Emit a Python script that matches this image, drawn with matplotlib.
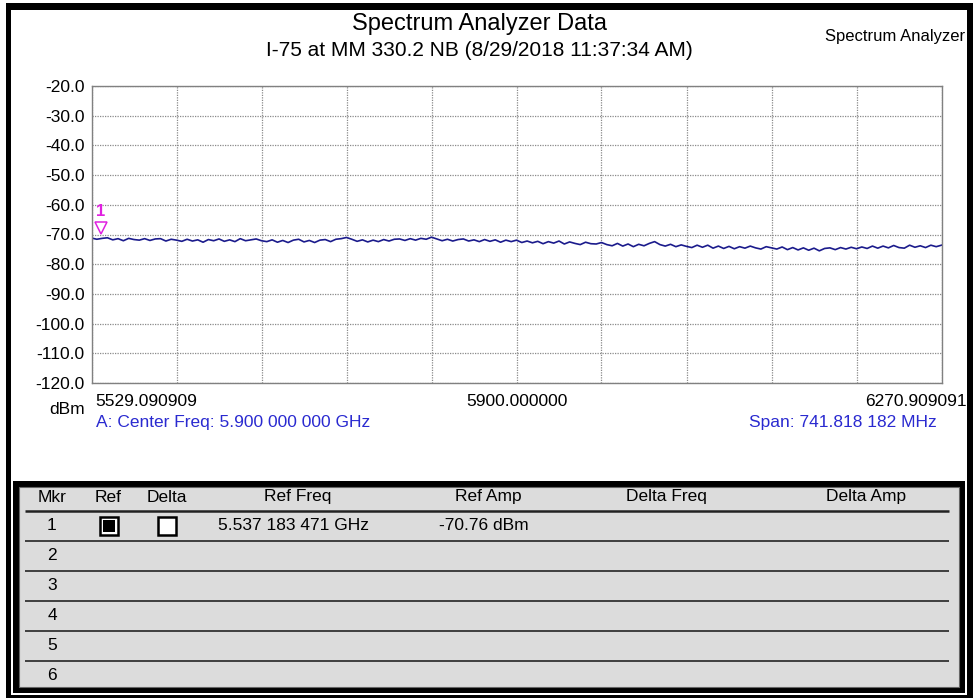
import numpy as np
import matplotlib.pyplot as plt
from matplotlib.patches import Rectangle
from matplotlib.transforms import offset_copy

plt.rcParams['font.family'] = ['Liberation Sans', 'DejaVu Sans']

# Canvas size in pixels
W, H = 973, 698

# Texts
title = "Spectrum Analyzer Data"
subtitle = "I-75 at MM 330.2 NB (8/29/2018 11:37:34 AM)"
corner_label = "Spectrum Analyzer"
center_text = "A: Center Freq: 5.900 000 000 GHz"
span_text = "Span: 741.818 182 MHz"
unit_label = "dBm"

# Sweep settings (MHz) and amplitude scale (dBm)
start_freq = 5529.090909
center_freq = 5900.000000
stop_freq = 6270.909091
y_ticks = [-20.0, -30.0, -40.0, -50.0, -60.0, -70.0, -80.0, -90.0, -100.0, -110.0, -120.0]

# Trace, 16 points per grid division
trace_dbm = [
    -71.2, -71.6, -71.3, -71.1, -71.8, -71.4, -72.1, -71.3, -71.7, -71.9, -71.4, -72.0, -71.5, -71.4, -72.2, -71.6,
    -71.9, -72.3, -71.6, -72.2, -71.8, -72.6, -71.7, -72.1, -71.5, -72.3, -71.8, -72.4, -71.4, -72.1, -71.8, -71.5,
    -72.1, -72.4, -71.8, -72.6, -72.0, -72.7, -71.9, -71.6, -72.5, -72.0, -72.7, -71.9, -71.7, -72.4, -71.6, -71.4,
    -71.0, -71.6, -72.3, -71.8, -72.5, -71.9, -72.4, -71.7, -72.2, -71.6, -71.5, -72.0, -71.4, -71.9, -71.3, -71.6,
    -70.9, -71.5, -72.1, -71.6, -72.2, -71.7, -71.5, -72.2, -71.8, -72.4, -71.7, -72.3, -71.8, -72.6, -71.9, -72.4,
    -71.9, -72.7, -72.2, -72.8, -72.3, -73.1, -72.4, -72.9, -72.2, -73.2, -72.5, -73.0, -73.4, -72.6, -73.1, -73.2,
    -72.7, -73.4, -73.8, -73.0, -73.9, -73.2, -74.1, -73.3, -73.8, -73.0, -72.4, -73.4, -73.9, -73.3, -74.1, -73.5,
    -74.0, -74.4, -73.6, -74.3, -73.6, -74.6, -73.9, -74.7, -74.0, -74.8, -74.1, -74.6, -73.9, -74.5, -74.9, -74.1,
    -74.5, -74.9, -74.2, -75.1, -74.4, -75.2, -74.5, -75.3, -74.6, -75.5, -74.7, -74.5, -75.1, -74.4, -74.9, -74.3,
    -74.8, -74.2, -74.7, -73.9, -74.6, -73.9, -74.5, -73.7, -74.4, -74.6, -73.6, -74.3, -73.8, -74.4, -73.6, -74.1,
    -73.6,
]

marker_freq = 5537.183471
marker_amp = -70.76
marker_name = "1"

# Marker table
table_headers = ["Mkr", "Ref", "Delta", "Ref Freq", "Ref Amp", "Delta Freq", "Delta Amp"]
marker_ids = ["1", "2", "3", "4", "5", "6"]
has_boxes = [True, False, False, False, False, False]
ref_checked = [True, False, False, False, False, False]
delta_checked = [False, False, False, False, False, False]
ref_freq_text = ["5.537 183 471 GHz", "", "", "", "", ""]
ref_amp_text = ["-70.76 dBm", "", "", "", "", ""]

trace_color = "#1b1b8c"
marker_color = "#e020e0"
blue_text = "#2a2ad0"

freqs = np.linspace(start_freq, stop_freq, len(trace_dbm))

fig = plt.figure(figsize=(W / 100, H / 100), dpi=100)
fig.patch.set_facecolor("white")

# Pixel-space overlay for frame and marker table
bg = fig.add_axes([0, 0, 1, 1], zorder=0)
bg.set_xlim(0, W)
bg.set_ylim(H, 0)
bg.axis("off")

bg.add_patch(Rectangle((6, 3), W - 6, H - 3, fc="black", ec="none"))
bg.add_patch(Rectangle((11, 10), 956, 685, fc="white", ec="none"))

# Table box
bg.add_patch(Rectangle((13, 481), 952, 212, fc="black", ec="none"))
bg.add_patch(Rectangle((19, 487), 940, 200, fc="#dcdcdc", ec="#666666", lw=0.8))

header_x = [52, 108, 167, 298, 488, 666, 866]
for hx, hd in zip(header_x, table_headers):
    bg.text(hx, 497, hd, ha="center", va="center", fontsize=12.5, color="black")
bg.plot([25, 949], [511, 511], color="#222222", lw=1.8, solid_capstyle="butt")

row_h = 30
for i, mid in enumerate(marker_ids):
    yc = 526 + i * row_h
    bg.text(52, yc, mid, ha="center", va="center", fontsize=12.5, color="black")
    if has_boxes[i]:
        bg.add_patch(Rectangle((100, yc - 9), 18, 18, fc="white", ec="black", lw=1.8))
        if ref_checked[i]:
            bg.add_patch(Rectangle((103, yc - 6), 12, 12, fc="black", ec="none"))
        bg.add_patch(Rectangle((158, yc - 9), 18, 18, fc="white", ec="black", lw=1.8))
        if delta_checked[i]:
            bg.add_patch(Rectangle((161, yc - 6), 12, 12, fc="black", ec="none"))
    bg.text(218, yc, ref_freq_text[i], ha="left", va="center", fontsize=12.5)
    bg.text(439, yc, ref_amp_text[i], ha="left", va="center", fontsize=12.5)
    if i < len(marker_ids) - 1:
        bg.plot([25, 949], [yc + 15, yc + 15], color="#333333", lw=1.3, solid_capstyle="butt")

# Titles
bg.text(479, 24, title, ha="center", va="center", fontsize=17)
bg.text(479, 51, subtitle, ha="center", va="center", fontsize=15)
bg.text(965, 37, corner_label, ha="right", va="center", fontsize=12)

# Spectrum plot
ax = fig.add_axes([91.5 / W, 1 - 383 / H, 850 / W, 297 / H], zorder=1)
ax.set_facecolor("white")
ax.plot(freqs, trace_dbm, color=trace_color, lw=1.2)

tri = offset_copy(ax.transData, fig=fig, x=0, y=6, units="points")
ax.plot([marker_freq], [marker_amp], marker="v", ms=9, mfc="none", mec=marker_color,
        mew=1.1, transform=tri, clip_on=False)
lbl = offset_copy(ax.transData, fig=fig, x=0, y=18, units="points")
ax.text(marker_freq, marker_amp, marker_name, transform=lbl, ha="center", va="center",
        fontsize=12, fontweight="bold", color=marker_color)

ax.set_xlim(start_freq, stop_freq)
ax.set_ylim(y_ticks[-1], y_ticks[0])
ax.set_yticks(y_ticks)
ax.set_yticklabels([f"{v:.1f}" for v in y_ticks])
ax.set_xticks(np.linspace(start_freq, stop_freq, 11))
ax.set_xticklabels([])
ax.tick_params(length=0, pad=5, labelsize=12.5)
ax.grid(True, color="#8a8a8a", linestyle=(0, (1, 1)), lw=0.9)
for s in ax.spines.values():
    s.set_color("#808080")
    s.set_linewidth(1.0)

# Frequency labels under the plot
bg.text(95, 401, f"{start_freq:.6f}", ha="left", va="center", fontsize=12.5)
bg.text(516.5, 401, f"{center_freq:.6f}", ha="center", va="center", fontsize=12.5)
bg.text(865, 401, f"{stop_freq:.6f}", ha="left", va="center", fontsize=12.5)
bg.text(85, 409, unit_label, ha="right", va="center", fontsize=12.5)
bg.text(96, 422, center_text, ha="left", va="center", fontsize=12.5, color=blue_text)
bg.text(937, 422, span_text, ha="right", va="center", fontsize=12.5, color=blue_text)

fig.savefig("out.png", dpi=100)
